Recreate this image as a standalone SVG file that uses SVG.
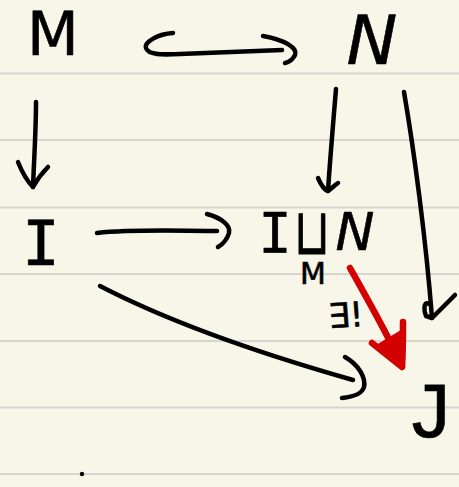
<svg xmlns="http://www.w3.org/2000/svg" width="459" height="487" viewBox="0 0 459 487">
  <defs>
    <style>
      .paper { fill: #f8f6e8; }
      .rule { stroke: #d6d6d0; stroke-width: 2; }
      .hand { fill: #000; stroke: #000; stroke-width: 0.6; stroke-linejoin: round; font-family: "DejaVu Sans", sans-serif; }
      .mono { font-family: "DejaVu Sans Mono", monospace; }
      .lmono { font-family: "Liberation Mono", monospace; }
      .ink { fill: none; stroke: #000; stroke-width: 4.5; stroke-linecap: round; stroke-linejoin: round; }
      .red { fill: none; stroke: #d40000; stroke-width: 6.5; stroke-linecap: round; stroke-linejoin: round; }
    </style>
  </defs>
  <rect class="paper" x="0" y="0" width="459" height="487"/>
  <g id="rules">
    <line class="rule" x1="0" y1="73.5" x2="459" y2="73.5"/>
    <line class="rule" x1="0" y1="140" x2="459" y2="140"/>
    <line class="rule" x1="0" y1="207.5" x2="459" y2="207.5"/>
    <line class="rule" x1="0" y1="274" x2="459" y2="274"/>
    <line class="rule" x1="0" y1="341" x2="459" y2="341"/>
    <line class="rule" x1="0" y1="407.5" x2="459" y2="407.5"/>
    <line class="rule" x1="0" y1="474" x2="459" y2="474"/>
  </g>
  <g id="node-M"><text class="hand" x="53" y="55" font-size="60" text-anchor="middle">M</text></g>
  <g id="node-N"><text class="hand" x="372" y="64" font-size="68" font-style="italic" text-anchor="middle">N</text></g>
  <g id="node-I"><text class="hand mono" x="41" y="265" font-size="63" text-anchor="middle">I</text></g>
  <g id="node-IuN">
    <text class="hand mono" x="275" y="252" font-size="55" text-anchor="middle">I</text>
    <text class="hand" x="0" y="0" font-size="46" text-anchor="middle" transform="translate(312,254) scale(1,1.4)">⊔</text>
    <text class="hand" x="355" y="250" font-size="52" font-style="italic" text-anchor="middle">N</text>
    <text class="hand" x="313" y="284" font-size="30" text-anchor="middle">M</text>
  </g>
  <g id="node-J"><text class="hand lmono" x="430" y="437" font-size="80" text-anchor="middle">J</text></g>
  <g id="connectors">
    <!-- M hook-arrow N -->
    <path class="ink" d="M173,33 C158,34 144,42 146,48 C148,55 162,55 180,54 L282,50"/>
    <path class="ink" d="M263,36 C285,40 298,48 295,55 C293,59 290,62 285,63"/>
    <!-- M to I -->
    <path class="ink" d="M36,102 C36,130 34,160 33,187"/>
    <path class="ink" d="M18,162 C22,172 28,182 33,187 C38,178 43,172 48,167"/>
    <!-- N to IuN -->
    <path class="ink" d="M336,89 C333,125 330,160 328,191"/>
    <path class="ink" d="M318,178 C321,185 325,190 328,191 C332,188 335,185 338,183"/>
    <!-- N to J -->
    <path class="ink" d="M404,92 C414,150 426,240 432,318"/>
    <path class="ink" d="M429,304 C423,300 424,312 426,316 L432,318 C440,310 448,302 455,295"/>
    <!-- I to IuN -->
    <path class="ink" d="M97,233 C135,229 180,231 217,231"/>
    <path class="ink" d="M207,214 C222,218 231,226 229,233 C227,240 223,244 218,247"/>
    <!-- I to J -->
    <path class="ink" d="M100,286 C150,312 230,345 353,380"/>
    <path class="ink" d="M345,357 C359,365 366,378 364,387 C362,394 352,397 342,398"/>
    <!-- unique arrow IuN to J -->
    <path class="red" d="M350,268 C368,300 388,335 402,366" stroke-width="5"/>
    <path class="red" d="M372,343 L402,367 C403,352 403,337 403,322"/>
    <path d="M376,345 L401,362 L401,330 Z" fill="#d40000"/>
    <text class="hand" x="328" y="327" font-size="34" transform="rotate(-4 345 312)">∃!</text>
  </g>
  <circle cx="82" cy="474" r="2.2" fill="#000"/>
</svg>
